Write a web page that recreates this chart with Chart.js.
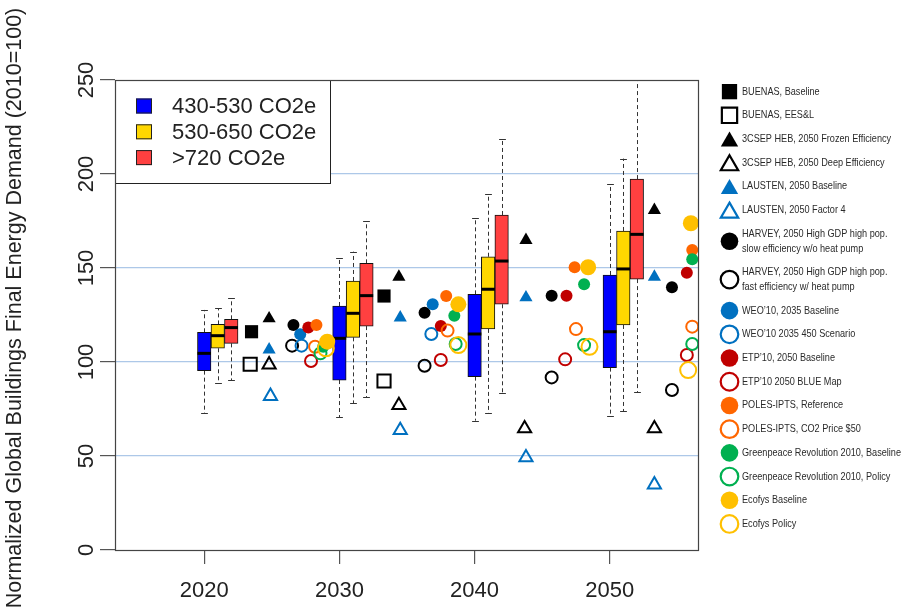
<!DOCTYPE html>
<html>
<head>
<meta charset="utf-8">
<script src="https://cdn.jsdelivr.net/npm/chart.js@4.4.1/dist/chart.umd.min.js"></script>
<style>
  html, body { margin: 0; padding: 0; background: #fff; }
  #wrap { width: 902px; height: 614px; }
</style>
</head>
<body>
<div id="wrap"><canvas id="chart" width="902" height="614"></canvas></div>
<script>
// years on x, index (2010 = 100) on y
const decades = [2020, 2030, 2040, 2050];
const tickYears = [2020, 2030, 2040, 2050];
const tickValues = [0, 50, 100, 150, 200, 250];
const boxGroups = ["430-530 CO2e", "530-650 CO2e", ">720 CO2e"];

// box stats: one row per group, one column per decade
const whiskerLow = [[72.7, 70.6, 68.8, 71.3], [89.0, 78.0, 72.7, 73.9], [90.4, 81.2, 83.3, 83.9]];
const quart1 = [[95.4, 90.4, 92.2, 97.0], [107.3, 113.1, 117.6, 119.7], [109.9, 119.1, 130.7, 144.1]];
const medians = [[104.6, 112.6, 114.9, 116.1], [114.0, 125.9, 138.7, 149.5], [118.3, 135.3, 153.7, 167.9]];
const quart3 = [[115.8, 129.8, 136.0, 146.3], [120.0, 143.1, 156.0, 169.7], [122.7, 152.5, 178.2, 197.3]];
const whiskerHigh = [[127.7, 155.1, 176.4, 194.5], [128.7, 158.7, 189.2, 208.2], [133.9, 175.0, 218.6, 256]];

// scenario points [year, value]
const buenasBaseline = [[2023.5, 116.1], [2033.3, 135.1]];
const buenasEESL = [[2023.4, 98.8], [2033.3, 89.9]];
const csepFrozen = [[2024.8, 123.1], [2034.4, 145.3], [2043.8, 164.8], [2053.3, 180.8]];
const csepDeep = [[2024.8, 98.6], [2034.4, 77.0], [2043.7, 64.6], [2053.3, 64.6]];
const laustenBaseline = [[2024.8, 106.6], [2034.5, 123.6], [2043.8, 134.3], [2053.3, 145.3]];
const laustenFactor4 = [[2024.9, 81.8], [2034.5, 63.7], [2043.8, 49.2], [2053.3, 34.8]];
const harveySlow = [[2026.6, 119.7], [2036.3, 126.2], [2045.7, 135.3], [2054.6, 139.7]];
const harveyFast = [[2026.5, 108.7], [2036.3, 98.0], [2045.7, 91.8], [2054.6, 85.1]];
const weoBaseline = [[2027.1, 114.7], [2036.9, 130.7]];
const weo450 = [[2027.2, 108.7], [2036.8, 114.9]];
const etpBaseline = [[2027.7, 118.3], [2037.5, 119.1], [2046.8, 135.3], [2055.7, 147.5]];
const etpBlue = [[2027.9, 100.5], [2037.5, 101.1], [2046.7, 101.4], [2055.7, 103.7]];
const polesRef = [[2028.3, 119.7], [2037.9, 135.1], [2047.4, 150.4], [2056.1, 159.6]];
const polesCO2 = [[2028.2, 108.1], [2038.0, 116.7], [2047.5, 117.5], [2056.1, 118.8]];
const greenpeaceBase = [[2028.8, 108.1], [2038.5, 124.6], [2048.1, 141.3], [2056.1, 154.6]];
const greenpeacePolicy = [[2028.6, 104.6], [2038.6, 109.6], [2048.1, 109.0], [2056.1, 109.6]];
const ecofysBase = [[2029.1, 110.8], [2038.8, 130.7], [2048.4, 150.4], [2056.0, 173.8]];
const ecofysPolicy = [[2029.0, 107.3], [2038.8, 109.0], [2048.5, 108.1], [2055.8, 95.7]];

const seriesNames = [
    "BUENAS, Baseline",
    "BUENAS, EES&L",
    "3CSEP HEB, 2050 Frozen Efficiency",
    "3CSEP HEB, 2050 Deep Efficiency",
    "LAUSTEN, 2050 Baseline",
    "LAUSTEN, 2050 Factor 4",
    ["HARVEY, 2050 High GDP high pop.", "slow efficiency w/o heat pump"],
    ["HARVEY, 2050 High GDP high pop.", "fast efficiency w/ heat pump"],
    "WEO\u201910, 2035 Baseline",
    "WEO\u201910 2035 450 Scenario",
    "ETP\u201910, 2050 Baseline",
    "ETP\u201910 2050 BLUE Map",
    "POLES-IPTS, Reference",
    "POLES-IPTS, CO2 Price $50",
    "Greenpeace Revolution 2010, Baseline",
    "Greenpeace Revolution 2010, Policy",
    "Ecofys Baseline",
    "Ecofys Policy"
];
const seriesData = [
    buenasBaseline, buenasEESL, csepFrozen, csepDeep, laustenBaseline, laustenFactor4,
    harveySlow, harveyFast, weoBaseline, weo450, etpBaseline, etpBlue,
    polesRef, polesCO2, greenpeaceBase, greenpeacePolicy, ecofysBase, ecofysPolicy
];

// look of each series
const boxColors = ["#0000FF", "#FFD700", "#FF4040"];
const markerShapes = ["rect", "rect", "triangle", "triangle", "triangle", "triangle",
    "circle", "circle", "circle", "circle", "circle", "circle",
    "circle", "circle", "circle", "circle", "circle", "circle"];
const markerColors = ["#000000", "#000000", "#000000", "#000000", "#0070C0", "#0070C0",
    "#000000", "#000000", "#0070C0", "#0070C0", "#C00000", "#C00000",
    "#FF6600", "#FF6600", "#00B050", "#00B050", "#FFC000", "#FFC000"];
const markerFilled = [true, false, true, false, true, false, true, false, true, false,
    true, false, true, false, true, false, true, false];
const markerRadius = { rect: 9.3, triangle: 7.6, circle: 6 };
const legendRadius = { rect: 10.8, triangle: 10, circle: 8.8 };

const FONT = "'Liberation Sans', Arial, sans-serif";
const TEXT = "#222222";

function drawMarker(ctx, shape, color, filled, r, x, y, lw) {
    ctx.save();
    ctx.fillStyle = filled ? color : "rgba(0,0,0,0)";
    ctx.strokeStyle = color;
    ctx.lineWidth = filled ? 0 : lw;
    Chart.helpers.drawPoint(ctx, {
        pointStyle: shape, radius: r, rotation: 0, borderWidth: filled ? 0 : lw
    }, x, y);
    ctx.restore();
}

// dashed whiskers with caps, under the boxes
const whiskers = {
    id: "whiskers",
    beforeDatasetsDraw(chart) {
        const { ctx, chartArea: a } = chart;
        const xs = chart.scales.x, ys = chart.scales.y;
        ctx.save();
        ctx.beginPath();
        ctx.rect(a.left, a.top, a.right - a.left, a.bottom - a.top);
        ctx.clip();
        ctx.strokeStyle = "#333";
        ctx.lineWidth = 1;
        boxGroups.forEach((g, gi) => {
            decades.forEach((yr, i) => {
                const x = Math.round(xs.getPixelForValue(yr + gi)) + 0.5;
                const pairs = [[quart3[gi][i], whiskerHigh[gi][i]], [quart1[gi][i], whiskerLow[gi][i]]];
                pairs.forEach(([from, to]) => {
                    const y0 = ys.getPixelForValue(from), y1 = ys.getPixelForValue(to);
                    ctx.setLineDash([4, 3]);
                    ctx.beginPath();
                    ctx.moveTo(x, y0);
                    ctx.lineTo(x, y1);
                    ctx.stroke();
                    ctx.setLineDash([]);
                    ctx.beginPath();
                    ctx.moveTo(x - 3.4, Math.round(y1) + 0.5);
                    ctx.lineTo(x + 3.4, Math.round(y1) + 0.5);
                    ctx.stroke();
                });
            });
        });
        ctx.restore();
    },
    afterDatasetDraw(chart, args) {
        if (args.meta.type !== "bar") return;
        const ctx = chart.ctx;
        const gi = args.meta._dataset.groupIndex;
        const ys = chart.scales.y;
        ctx.save();
        ctx.strokeStyle = "#000";
        ctx.lineWidth = 3;
        args.meta.data.forEach((bar, i) => {
            const y = ys.getPixelForValue(medians[gi][i]);
            ctx.beginPath();
            ctx.moveTo(bar.x - bar.width / 2, y);
            ctx.lineTo(bar.x + bar.width / 2, y);
            ctx.stroke();
        });
        ctx.restore();
    }
};

// frame, axis title plus both legends
const decorations = {
    id: "decorations",
    afterDraw(chart) {
        const { ctx, chartArea: a } = chart;
        ctx.save();

        // y axis title, a little above the middle as in the original
        ctx.save();
        ctx.translate(15, 308);
        ctx.rotate(-Math.PI / 2);
        ctx.font = "21.5px " + FONT;
        ctx.fillStyle = TEXT;
        ctx.textAlign = "center";
        ctx.textBaseline = "middle";
        ctx.fillText("Normalized Global Buildings Final Energy Demand (2010=100)", 0, 0);
        ctx.restore();

        // box legend in the top left corner
        ctx.fillStyle = "#fff";
        ctx.fillRect(a.left, a.top, 216, 103);
        ctx.strokeStyle = "#222";
        ctx.lineWidth = 1;
        ctx.strokeRect(a.left + 0.5, a.top + 0.5, 215, 103);
        ctx.font = "22px " + FONT;
        ctx.textBaseline = "middle";
        boxGroups.forEach((name, g) => {
            const y = a.top + 26 + g * 25.8;
            ctx.fillStyle = boxColors[g];
            ctx.fillRect(a.left + 21, y - 7.5, 16, 15);
            ctx.strokeRect(a.left + 21.5, y - 7, 15, 14);
            ctx.fillStyle = TEXT;
            ctx.fillText(name, a.left + 57, y + 1);
        });

        // plot frame
        ctx.strokeStyle = "#444";
        ctx.lineWidth = 1.2;
        ctx.strokeRect(a.left + 0.5, a.top + 0.5, a.right - a.left - 1, a.bottom - a.top);

        // scenario legend on the right, squeezed to the narrow face of the original
        let top = a.top - 0.2;
        ctx.font = "10.8px " + FONT;
        ctx.textBaseline = "middle";
        const squeeze = 159 / ctx.measureText("Greenpeace Revolution 2010, Baseline").width;
        const tx = a.right + 43;
        seriesNames.forEach((name, i) => {
            const lines = Array.isArray(name) ? name : [name];
            const h = 23.7 + (lines.length - 1) * 14.7;
            const cy = top + h / 2;
            const shape = markerShapes[i];
            const r = legendRadius[shape];
            const my = shape === "triangle" ? cy + r / 4 : cy;
            drawMarker(ctx, shape, markerColors[i], markerFilled[i], r, a.right + 30.5, my, 2.2);
            ctx.fillStyle = "#2a2a2a";
            lines.forEach((t, k) => {
                ctx.save();
                ctx.translate(tx, cy - (lines.length - 1) * 7.35 + k * 14.7);
                ctx.scale(squeeze, 1);
                ctx.fillText(t, 0, 0);
                ctx.restore();
            });
            top += h;
        });
        ctx.restore();
    }
};

const datasets = [];
boxGroups.forEach((name, gi) => {
    datasets.push({
        type: "bar",
        label: name,
        groupIndex: gi,
        data: decades.map((yr, i) => ({ x: yr + gi, y: [quart1[gi][i], quart3[gi][i]] })),
        backgroundColor: boxColors[gi],
        borderColor: "#111",
        borderWidth: 1,
        borderSkipped: false,
        grouped: false,
        barThickness: 13.5,
        order: 100
    });
});
seriesNames.forEach((name, i) => {
    const shape = markerShapes[i];
    datasets.push({
        type: "scatter",
        label: Array.isArray(name) ? name.join(" ") : name,
        data: seriesData[i].map(p => ({ x: p[0], y: p[1] })),
        pointStyle: shape,
        pointRadius: (i >= 16 ? 8 : markerRadius[shape]),
        pointBackgroundColor: markerFilled[i] ? markerColors[i] : "rgba(0,0,0,0)",
        pointBorderColor: markerColors[i],
        pointBorderWidth: markerFilled[i] ? 0 : 2,
        showLine: false,
        order: -i
    });
});

new Chart(document.getElementById("chart"), {
    type: "scatter",
    data: { datasets: datasets },
    options: {
        responsive: false,
        animation: false,
        events: [],
        layout: { padding: { left: 0, top: 80, right: 203, bottom: 0 } },
        plugins: {
            legend: { display: false },
            tooltip: { enabled: false }
        },
        scales: {
            x: {
                type: "linear",
                min: 2013.4,
                max: 2056.6,
                offset: false,
                afterBuildTicks: s => { s.ticks = tickYears.map(v => ({ value: v })); },
                afterFit: s => { s.height = 64; },
                border: { display: false },
                grid: { offset: false, drawOnChartArea: false, drawTicks: true, tickLength: 14, tickColor: "#555", lineWidth: 1.2 },
                ticks: { font: { size: 22, family: FONT }, color: TEXT, padding: 14, maxRotation: 0, callback: v => String(v) }
            },
            y: {
                min: 0,
                max: 250,
                afterBuildTicks: s => { s.ticks = tickValues.map(v => ({ value: v })); },
                afterFit: s => { s.width = 115; },
                border: { display: false },
                grid: {
                    color: c => (c.tick && c.tick.value > 0 && c.tick.value < 250) ? "#ADC8E8" : "rgba(0,0,0,0)",
                    tickColor: "#555",
                    tickLength: 15,
                    lineWidth: 1.2
                },
                ticks: {
                    font: { size: 22, family: FONT },
                    color: TEXT,
                    minRotation: 90,
                    maxRotation: 90,
                    crossAlign: "center",
                    padding: -5
                }
            }
        }
    },
    plugins: [whiskers, decorations]
});
</script>
</body>
</html>
